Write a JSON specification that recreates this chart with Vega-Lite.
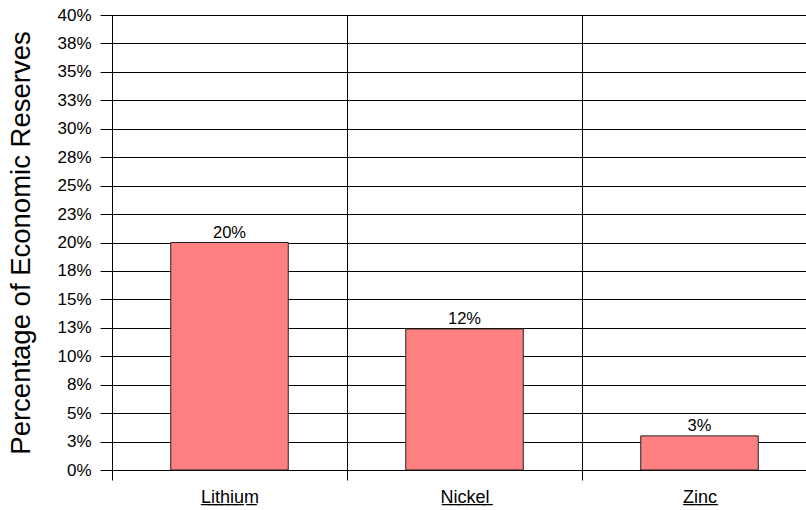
{
  "$schema": "https://vega.github.io/schema/vega-lite/v6.json",
  "width": 694,
  "height": 455,
  "autosize": {"type": "none"},
  "padding": {"left": 112, "top": 15, "right": 0, "bottom": 40},
  "background": "white",
  "config": {"view": {"stroke": null}, "font": "Liberation Sans"},
  "data": {"values": [
    {"metal": "Lithium", "share": 0.2},
    {"metal": "Nickel", "share": 0.124},
    {"metal": "Zinc", "share": 0.03}
  ]},
  "encoding": {
    "x": {
      "field": "metal", "type": "nominal", "sort": null,
      "scale": {"range": [0, 705], "paddingInner": 0, "paddingOuter": 0},
      "axis": {
        "title": null, "tickBand": "extent", "grid": true, "gridColor": "#000",
        "domainColor": "#000", "tickColor": "#000", "tickSize": 10,
        "labelFontSize": 18, "labelColor": "#000", "labelPadding": 8, "labelAngle": 0,
        "labelExpr": "datum.label ? join(split(datum.label, ''), '\u0332') + '\u0332' : ''"
      }
    },
    "y": {
      "field": "share", "type": "quantitative",
      "scale": {"domain": [0, 0.4], "nice": false},
      "axis": {
        "title": "Percentage of Economic Reserves", "titleFontSize": 27.5,
        "titleFontWeight": "normal", "titleColor": "#000", "titlePadding": 21,
        "values": [0, 0.025, 0.05, 0.075, 0.1, 0.125, 0.15, 0.175, 0.2, 0.225, 0.25, 0.275, 0.3, 0.325, 0.35, 0.375, 0.4],
        "labelExpr": "round(round(datum.value*1000)/10) + '%'",
        "grid": true, "gridColor": "#000", "tickColor": "#000", "tickSize": 12,
        "labelPadding": 9, "labelFontSize": 17, "labelColor": "#000", "domainColor": "#000"
      }
    }
  },
  "layer": [
    {"mark": {"type": "bar", "width": {"band": 0.5}, "fill": "#FF8080", "stroke": "#222", "strokeWidth": 1}},
    {"mark": {"type": "text", "baseline": "bottom", "dy": -2, "fontSize": 16.5, "color": "#000"},
     "encoding": {"text": {"field": "share", "format": ".0%"}}}
  ]
}
